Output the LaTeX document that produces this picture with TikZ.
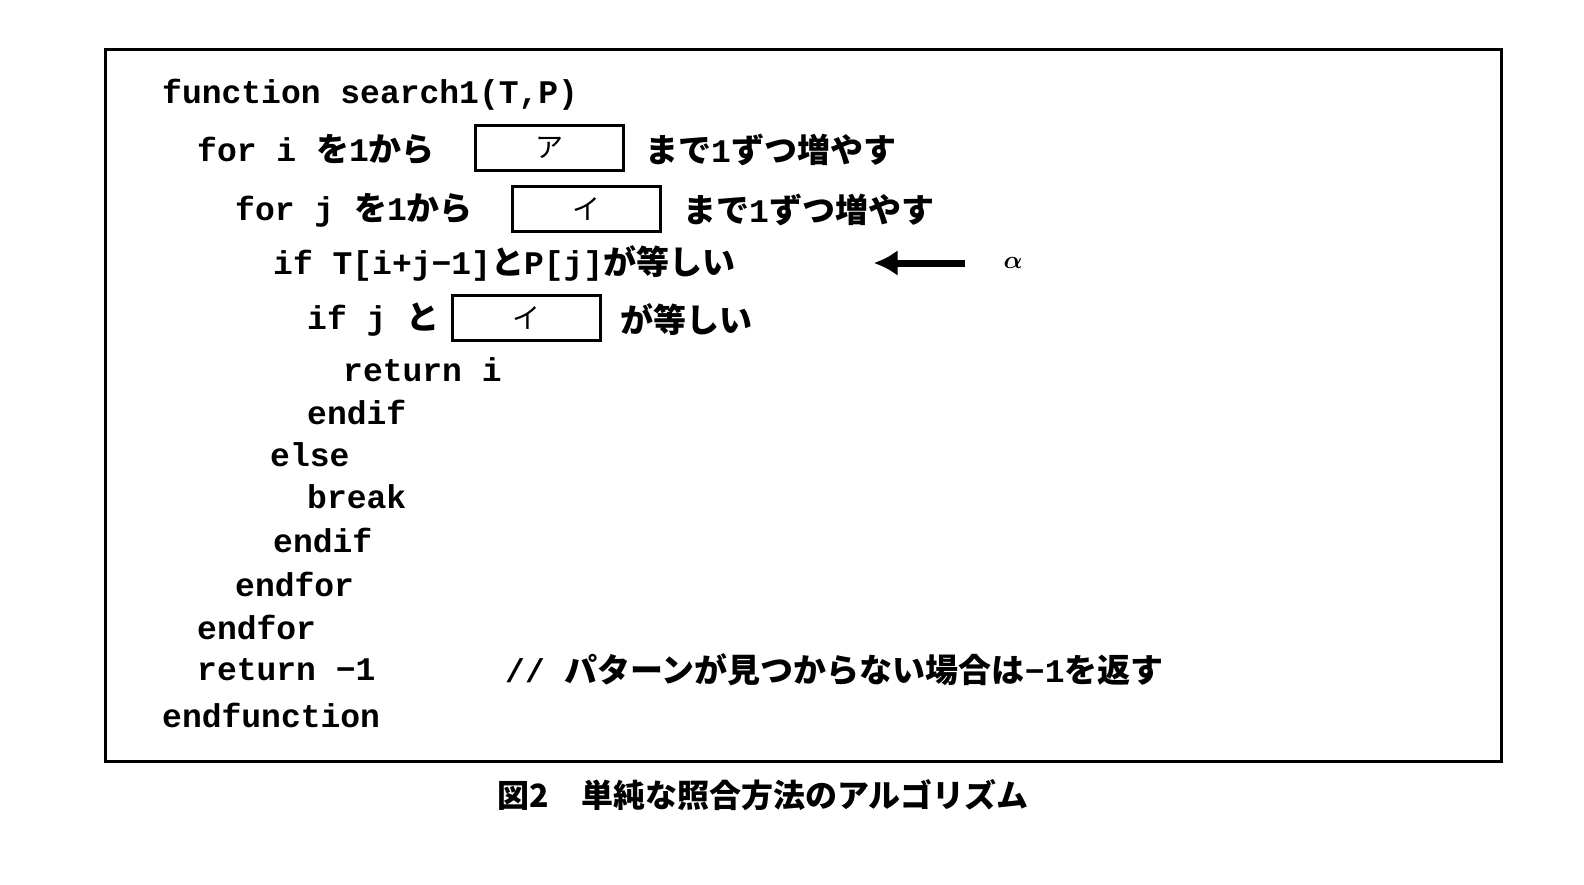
\documentclass[tikz,border=0pt]{standalone}
\usepackage{bm}
\usetikzlibrary{arrows.meta}
\usepackage{fontspec}
\setmonofont{Liberation Mono}
\newfontfamily\cjk{Noto Sans CJK JP}
\newcommand{\J}[1]{{\cjk\bfseries #1}}
\begin{document}
\begin{tikzpicture}[x=1pt,y=-1pt,
  code/.style={anchor=west,inner sep=0pt,font=\fontsize{33}{38}\selectfont\ttfamily\bfseries},
  blank/.style={draw,line width=3pt,minimum width=148pt,minimum height=45pt,inner sep=0pt,font=\fontsize{28}{32}\selectfont\cjk},
  frame/.style={draw,line width=2.5pt}]
\useasboundingbox (0,0) rectangle (1584,884);
\node[frame,minimum width=1396pt,minimum height=712pt,anchor=north west,inner sep=0pt] (fr) at (104,48) {};
\node[code] (l1) at (162,95) {function search1(T,P)};
\node[code] (l2) at (197,150) {for i \J{を}1\J{から}};
\node[blank] (ba) at (549,148) {ア};
\node[code] (l2b) at (645,150) {\J{まで}1\J{ずつ増やす}};
\node[code] (l3) at (235,210) {for j \J{を}1\J{から}};
\node[blank] (bi1) at (586,209) {イ};
\node[code] (l3b) at (683,210) {\J{まで}1\J{ずつ増やす}};
\node[code] (l4) at (273,263) {if T[i+j\textminus1]\J{と}P[j]\J{が等しい}};
\coordinate (as) at (965,263);
\node[inner sep=0pt] (ae) at (873,263) {};
\draw[line width=7pt,-{Latex[length=24pt,width=26pt]}] (as) -- (ae);
\node[anchor=center,inner sep=0pt,font=\fontsize{36}{40}\selectfont\bfseries] (al) at (1013,263) {$\bm\alpha$};
\node[code] (l5) at (307,320) {if j \J{と}};
\node[blank] (bi2) at (526,318) {イ};
\node[code] (l5b) at (620,320) {\J{が等しい}};
\node[code] (l6) at (343,370) {return i};
\node[code] (l7) at (307,412) {endif};
\node[code] (l8) at (270,455) {else};
\node[code] (l9) at (307,497) {break};
\node[code] (l10) at (273,540) {endif};
\node[code] (l11) at (235,584) {endfor};
\node[code] (l12) at (197,627) {endfor};
\node[code] (l13) at (197,670) {return \textminus1};
\node[code] (l13b) at (505,670) {// \J{パターンが見つからない場合は}\textminus1\J{を返す}};
\node[code] (l14) at (162,715) {endfunction};
\node[inner sep=0pt,font=\fontsize{32}{36}\selectfont\cjk\bfseries] (cap) at (763,795) {図2\quad 単純な照合方法のアルゴリズム};
\end{tikzpicture}
\end{document}
